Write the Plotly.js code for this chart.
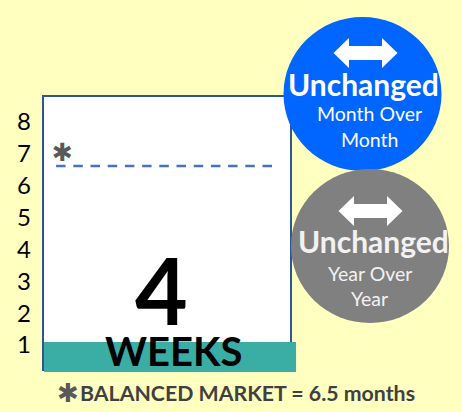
<!DOCTYPE html>
<html><head><meta charset="utf-8">
<script src="https://cdn.plot.ly/plotly-3.0.1.min.js"></script>
<style>html,body{margin:0;padding:0;background:#FFFFC0;overflow:hidden}</style></head>
<body><div id="c" style="width:462px;height:412px"></div>
<script>
var yTicks = [1,2,3,4,5,6,7,8];
var barValue = [0.94];
var barCategory = [0.5];
var balancedX = [0.048,0.905];
var balancedY = [6.62,6.62];
var F = 'Lato, "Open Sans", sans-serif';
var W=462,H=412,L=44,R=296,T=96,B=372;
function px(x){return (x-L)/(R-L);}
function py(y){return (B-y)/(B-T);}
function circle(cx,cy,rx,ry,col){return {type:'circle',layer:'above',xref:'paper',yref:'paper',x0:px(cx-rx),x1:px(cx+rx),y0:py(cy+ry),y1:py(cy-ry),fillcolor:col,line:{width:0}};}
function arrow(cx,cy,col){
  var p=[[-32,0],[-16.5,-15],[-16.5,-7],[16.5,-7],[16.5,-15],[32,0],[16.5,15],[16.5,7],[-16.5,7],[-16.5,15]];
  var d=p.map(function(q,i){return (i?'L':'M')+px(cx+q[0]).toFixed(4)+','+py(cy+q[1]).toFixed(4);}).join(' ')+' Z';
  return {type:'path',layer:'above',xref:'paper',yref:'paper',path:d,fillcolor:col,line:{width:0}};
}
function txt(x,y,t,size,col,bold,fam){return {xref:'paper',yref:'paper',x:px(x),y:py(y),xanchor:'center',yanchor:'middle',showarrow:false,text:bold?'<b>'+t+'</b>':t,font:{family:fam||F,size:size,color:col}};}
var data=[
 {type:'bar',x:barCategory,y:barValue,base:0.154,width:1,marker:{color:'#3AAEA4',line:{width:0}},hoverinfo:'skip'},
 {type:'scatter',mode:'lines',x:balancedX,y:balancedY,line:{color:'#4472C4',width:2.5,dash:'9.5px 7.7px'},hoverinfo:'skip'}
];
var layout={
 width:W,height:H,showlegend:false,paper_bgcolor:'#FFFFC0',plot_bgcolor:'rgba(0,0,0,0)',
 margin:{l:L,r:W-R,t:T,b:H-B,pad:0},
 xaxis:{range:[0,1],visible:false,fixedrange:true},
 yaxis:{range:[0.154,8.815],tickvals:yTicks,ticktext:yTicks.map(String),showgrid:false,zeroline:false,showline:false,ticks:'',tickfont:{family:F,size:24,color:'#000'},ticklabelstandoff:12,fixedrange:true},
 shapes:[
  {type:'rect',layer:'below',xref:'paper',yref:'paper',x0:px(43),x1:px(291),y0:py(370),y1:py(96),fillcolor:'#FFFFFF',line:{color:'#2F5597',width:2}},
  circle(362.5,94,79,77,'#0066FF'),
  circle(370,246,79,77,'#808080'),
  arrow(365.5,53,'#FFFFFF'),
  arrow(370.5,211,'#FFFFFF')
 ],
 annotations:[
  txt(62.5,152,'✱',25,'#595959',false,'DejaVu Sans'),
  txt(161,289,'4',91,'#000000',true),
  txt(173,351,'WEEKS',40,'#000000',true),
  txt(363.5,84,'Unchanged',30,'#FFFFFF',true),
  txt(369.5,113,'Month Over',19.5,'#FFFFFF',false),
  txt(369,139,'Month',19.5,'#FFFFFF',false),
  txt(373,241,'Unchanged',30,'#F2F2F2',true),
  txt(369.5,273,'Year Over',19.5,'#F2F2F2',false),
  txt(369,298,'Year',19.5,'#F2F2F2',false),
  txt(68,393,'✱',26,'#595959',false,'DejaVu Sans'),
  txt(247.5,393,'BALANCED MARKET = 6.5 months',21.3,'#404040',true)
 ]
};
Plotly.newPlot('c',data,layout,{displayModeBar:false,staticPlot:true});
</script></body></html>
